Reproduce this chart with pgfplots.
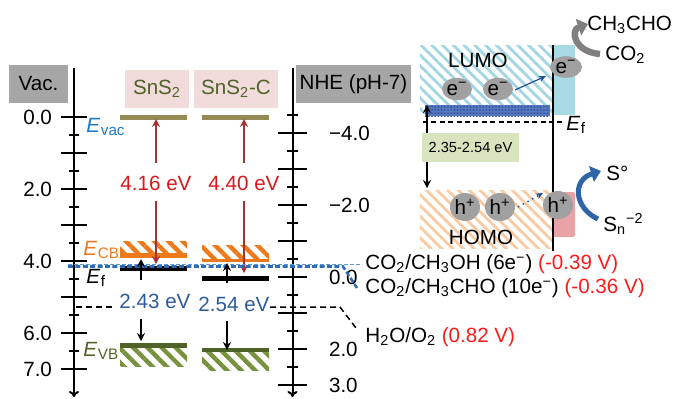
\documentclass[border=0pt]{standalone}
\usepackage{pgfplots}
\pgfplotsset{compat=1.18}
\usepackage{fontspec}
\setmainfont{Liberation Sans}
\usetikzlibrary{patterns,patterns.meta,arrows.meta}
\definecolor{graybox}{HTML}{A6A6A6}
\definecolor{pinkbox}{HTML}{F2DCDB}
\definecolor{olivetxt}{HTML}{4F6228}
\definecolor{vacbar}{HTML}{948A54}
\definecolor{cborange}{HTML}{EC7A1C}
\definecolor{vbgreen}{HTML}{4F6228}
\definecolor{vbhatch}{HTML}{76923C}
\definecolor{evacblue}{HTML}{1A7AC6}
\definecolor{gapblue}{HTML}{2E5A9A}
\definecolor{arrred}{HTML}{A83232}
\definecolor{lblred}{HTML}{D9181C}
\definecolor{potred}{HTML}{FF1A1A}
\definecolor{dashblue}{HTML}{2F6CB5}
\definecolor{dashlight}{HTML}{5B9BD5}
\definecolor{lumoblue}{HTML}{A3D6E3}
\definecolor{homopeach}{HTML}{F9CBA3}
\definecolor{bandblue}{HTML}{5578C0}
\definecolor{bandblued}{HTML}{2A4D94}
\definecolor{sideblue}{HTML}{A8DAE6}
\definecolor{sidepink}{HTML}{E7A3A6}
\definecolor{gapbox}{HTML}{D7E4BD}
\definecolor{elgray}{HTML}{A0A0A0}
\definecolor{curvblue}{HTML}{2E64A8}
\definecolor{curvgray}{HTML}{7F7F7F}
\definecolor{arrowblue}{HTML}{1F4E99}
\newcommand\Esub[1]{\textit{E}\kern0.3pt\raisebox{-0.35ex}{\fontsize{7.6}{8}\selectfont #1}}
\begin{document}
\begin{tikzpicture}[font=\fontsize{10.3}{12}\selectfont]
\pgfplotsset{every tick label/.append style={font=\fontsize{10.3}{12}\selectfont},
  /pgf/number format/assume math mode=true}
% ---------------- Vac axis (left) ----------------
\begin{axis}[at={(37pt,0.5pt)}, anchor=south west, scale only axis,
  width=1pt, height=164.5pt, xmin=0, xmax=1,
  ymin=-1.361, ymax=7.778, y dir=reverse,
  axis x line=none, axis y line=left,
  ytick={0,1,...,7}, yticklabels={0.0,,2.0,,4.0,,6.0,7.0},
  minor ytick={0.5,1.5,...,6.5},
  tick align=center, major tick length=13pt, minor tick length=5.5pt,
  every tick/.style={black, line width=1.2pt},
  y axis line style={line width=1pt, -{To[length=3pt,width=5pt]}},
  yticklabel style={xshift=-1pt}]
\addplot[draw=none] coordinates {(0,0)};
\end{axis}
% ---------------- NHE axis (right) ----------------
\begin{axis}[at={(146.25pt,0.5pt)}, anchor=south east, scale only axis,
  width=1pt, height=164.5pt, xmin=0, xmax=1,
  ymin=-5.806, ymax=3.333, y dir=reverse,
  axis x line=none, axis y line=right,
  ytick={-4,-3,...,3}, yticklabels={−4.0,,−2.0,,0.0,,2.0,3.0},
  minor ytick={-4.5,-3.5,...,2.5},
  tick align=center, major tick length=14.5pt, minor tick length=6pt,
  every tick/.style={black, line width=1.2pt},
  y axis line style={line width=1pt, -{To[length=3pt,width=5pt]}},
  yticklabel style={xshift=7.5pt}]
\addplot[draw=none] coordinates {(0,0)};
\end{axis}
% ---------------- overlay (pixel x, pixel y; bands in eV) ----------------
\begin{axis}[at={(0pt,0pt)}, anchor=south west, scale only axis,
  width=338pt, height=199pt, xmin=0, xmax=676, ymin=0, ymax=398,
  y dir=reverse, hide axis, clip=false]
% header boxes
\fill[graybox] (axis cs:9,65) rectangle (axis cs:68,103);
\node at (axis cs:38.5,84) {Vac.};
\fill[graybox] (axis cs:296,65) rectangle (axis cs:411,103);
\node at (axis cs:353.5,84) {NHE (pH-7)};
\fill[pinkbox] (axis cs:125,70) rectangle (axis cs:189,108);
\node[text=olivetxt] at (axis cs:157,89) {SnS\textsubscript{2}};
\fill[pinkbox] (axis cs:194,70) rectangle (axis cs:278,108);
\node[text=olivetxt] at (axis cs:236,89) {SnS\textsubscript{2}-C};
% hatched bands (eV values, y = 117 + 36 e)
\addplot[draw=none, pattern={Lines[angle=-45,distance=5pt,line width=2.2pt]}, pattern color=cborange]
  table[row sep=\\, y expr=117+36*\thisrow{e}] {x e\\ 120 3.464\\ 187 3.464\\ 187 3.786\\ 120 3.786\\} -- cycle;
\addplot[draw=none, pattern={Lines[angle=-45,distance=5pt,line width=2.2pt]}, pattern color=cborange]
  table[row sep=\\, y expr=117+36*\thisrow{e}] {x e\\ 202 3.583\\ 269 3.583\\ 269 3.925\\ 202 3.925\\} -- cycle;
\addplot[draw=none, pattern={Lines[angle=-45,distance=5pt,line width=2.2pt]}, pattern color=vbhatch]
  table[row sep=\\, y expr=117+36*\thisrow{e}] {x e\\ 120 6.408\\ 187 6.408\\ 187 6.936\\ 120 6.936\\} -- cycle;
\addplot[draw=none, pattern={Lines[angle=-45,distance=5pt,line width=2.2pt]}, pattern color=vbhatch]
  table[row sep=\\, y expr=117+36*\thisrow{e}] {x e\\ 202 6.547\\ 269 6.547\\ 269 7.047\\ 202 7.047\\} -- cycle;
% level bars
\addplot[vacbar, line width=2.5pt] table[row sep=\\, y expr=117+36*\thisrow{e}] {x e\\ 120 0\\ 187 0\\};
\addplot[vacbar, line width=2.5pt] table[row sep=\\, y expr=117+36*\thisrow{e}] {x e\\ 202 0\\ 269 0\\};
\addplot[cborange, line width=2.2pt] table[row sep=\\, y expr=117+36*\thisrow{e}] {x e\\ 120 3.847\\ 187 3.847\\};
\addplot[cborange, line width=1.7pt] table[row sep=\\, y expr=117+36*\thisrow{e}] {x e\\ 202 3.99\\ 269 3.99\\};
\addplot[black, line width=2.5pt] table[row sep=\\, y expr=117+36*\thisrow{e}] {x e\\ 120 4.222\\ 187 4.222\\};
\addplot[black, line width=2.5pt] table[row sep=\\, y expr=117+36*\thisrow{e}] {x e\\ 202 4.486\\ 269 4.486\\};
\addplot[vbgreen, line width=2.2pt] table[row sep=\\, y expr=117+36*\thisrow{e}] {x e\\ 120 6.347\\ 187 6.347\\};
\addplot[vbgreen, line width=2.2pt] table[row sep=\\, y expr=117+36*\thisrow{e}] {x e\\ 202 6.472\\ 269 6.472\\};
% red work-function arrows
\draw[arrred, line width=0.8pt, -{Stealth[length=4pt,width=4pt]}] (axis cs:156,163) -- (axis cs:156,119);
\draw[arrred, line width=0.8pt, -{Stealth[length=4pt,width=4pt]}] (axis cs:156,201) -- (axis cs:156,264);
\draw[arrred, line width=0.8pt, -{Stealth[length=4pt,width=4pt]}] (axis cs:244,163) -- (axis cs:244,119);
\draw[arrred, line width=0.8pt, -{Stealth[length=4pt,width=4pt]}] (axis cs:244,201) -- (axis cs:244,273);
\node[text=lblred] at (axis cs:156,183) {4.16 eV};
\node[text=lblred] at (axis cs:244,183) {4.40 eV};
% dashed reference lines
\draw[dashblue, line width=1.3pt, dash pattern=on 2.5pt off 1.2pt] (axis cs:68,266.5) -- (axis cs:343,266.5) -- (axis cs:357,288);
\draw[dashlight, line width=0.5pt, dash pattern=on 2pt off 1pt] (axis cs:68,264) -- (axis cs:362,264);
\draw[black, line width=0.75pt, dash pattern=on 3pt off 2pt] (axis cs:76,307) -- (axis cs:112,307);
\draw[black, line width=0.75pt, dash pattern=on 3pt off 2pt] (axis cs:270,307) -- (axis cs:340,307) -- (axis cs:356,328);
% black gap arrows
\draw[black, line width=0.8pt, -{Stealth[length=4pt,width=4pt]}] (axis cs:141,280) -- (axis cs:141,259);
\draw[black, line width=0.8pt, -{Stealth[length=4pt,width=4pt]}] (axis cs:141,319) -- (axis cs:141,341);
\draw[black, line width=0.8pt, -{Stealth[length=4pt,width=4pt]}] (axis cs:227,283) -- (axis cs:227,263);
\draw[black, line width=0.8pt, -{Stealth[length=4pt,width=4pt]}] (axis cs:227,321) -- (axis cs:227,350);
\node[text=gapblue] at (axis cs:155,301) {2.43 eV};
\node[text=gapblue] at (axis cs:234,304) {2.54 eV};
% E labels
\node[anchor=west, text=evacblue, inner sep=0pt] at (axis cs:86,127) {\Esub{vac}};
\node[anchor=west, text=cborange, inner sep=0pt] at (axis cs:83,250) {\Esub{CB}};
\node[anchor=west, text=black, inner sep=0pt] at (axis cs:86,278) {\Esub{f}};
\node[anchor=west, text=vbgreen, inner sep=0pt] at (axis cs:83,351) {\Esub{VB}};
% redox potentials
\node[anchor=west, inner sep=0pt] at (axis cs:365,264) {CO\textsubscript{2}/CH\textsubscript{3}OH (6e\textsuperscript{−}) \textcolor{potred}{(-0.39 V)}};
\node[anchor=west, inner sep=0pt] at (axis cs:365,288) {CO\textsubscript{2}/CH\textsubscript{3}CHO (10e\textsuperscript{−}) \textcolor{potred}{(-0.36 V)}};
\node[anchor=west, inner sep=0pt] at (axis cs:365,337) {H\textsubscript{2}O/O\textsubscript{2} \textcolor{potred}{(0.82 V)}};
% ---------------- right schematic ----------------
\fill[pattern={Lines[angle=-45,distance=3.8pt,line width=1.4pt]}, pattern color=lumoblue] (axis cs:420,45) rectangle (axis cs:552,113);
\fill[bandblue] (axis cs:425,105) rectangle (axis cs:550,116);
\fill[pattern={Dots[distance=1.6pt,radius=0.45pt]}, pattern color=bandblued] (axis cs:425,105) rectangle (axis cs:550,116);
\fill[pattern={Lines[angle=-45,distance=3.8pt,line width=1.4pt]}, pattern color=homopeach] (axis cs:420,190) rectangle (axis cs:552,248);
\fill[sideblue] (axis cs:553,45) rectangle (axis cs:575,115);
\fill[sidepink, rounded corners=1pt] (axis cs:553,192) rectangle (axis cs:575,237);
\draw[black, line width=1pt] (axis cs:553,45) -- (axis cs:553,251);
\node at (axis cs:478,60) {LUMO};
\node at (axis cs:481,237) {HOMO};
\fill[elgray] (axis cs:457,89) ellipse [x radius=7.5pt, y radius=5.6pt];
\fill[elgray] (axis cs:498,89) ellipse [x radius=7.5pt, y radius=5.6pt];
\fill[elgray] (axis cs:566,67) ellipse [x radius=8pt, y radius=5.4pt];
\node at (axis cs:457,89) {e\textsuperscript{−}};
\node at (axis cs:498,89) {e\textsuperscript{−}};
\node at (axis cs:566,67) {e\textsuperscript{−}};
\draw[arrowblue, line width=0.6pt, -{Stealth[length=3.5pt,width=3pt]}] (axis cs:515,90) -- (axis cs:546,76);
\fill[elgray] (axis cs:465,207) ellipse [x radius=7.5pt, y radius=7pt];
\fill[elgray] (axis cs:500,207) ellipse [x radius=7.5pt, y radius=7pt];
\fill[elgray] (axis cs:558,205) ellipse [x radius=7.5pt, y radius=7pt];
\node at (axis cs:465,207) {h\textsuperscript{+}};
\node at (axis cs:500,207) {h\textsuperscript{+}};
\node at (axis cs:558,205) {h\textsuperscript{+}};
\draw[arrowblue, line width=0.7pt, dotted, -{Stealth[length=3.5pt,width=3pt]}] (axis cs:518,207) -- (axis cs:543,193);
% Ef and gap
\draw[black, line width=0.9pt, dash pattern=on 2.5pt off 1.7pt] (axis cs:423,122) -- (axis cs:562,122);
\node[anchor=west, inner sep=0pt] at (axis cs:566,125) {\Esub{f}};
\draw[black, line width=0.8pt, {Stealth[length=4pt,width=4pt]}-{Stealth[length=4pt,width=4pt]}] (axis cs:427,105) -- (axis cs:427,188);
\fill[gapbox] (axis cs:422,133) rectangle (axis cs:519,162);
\node[font=\fontsize{7.3}{9}\selectfont] at (axis cs:470.5,147.5) {2.35-2.54 eV};
% curved arrows and species
\draw[curvblue, line width=2.5pt, -{Triangle[length=5pt,width=8pt]}] (axis cs:598,219) .. controls (axis cs:574,208) and (axis cs:572,180) .. (axis cs:601,171);
\node[anchor=west, inner sep=0pt] at (axis cs:606,173) {S°};
\node[anchor=west, inner sep=0pt] at (axis cs:603,224) {S\textsubscript{n}\textsuperscript{−2}};
\draw[curvgray, line width=3.2pt, -{Triangle[length=5pt,width=8.5pt]}] (axis cs:600,54) .. controls (axis cs:574,52) and (axis cs:570,30) .. (axis cs:588,24);
\node[anchor=west, inner sep=0pt] at (axis cs:587,25) {CH\textsubscript{3}CHO};
\node[anchor=west, inner sep=0pt] at (axis cs:605,55) {CO\textsubscript{2}};
\end{axis}
\pgfresetboundingbox
\useasboundingbox (0,0) rectangle (338pt,199pt);
\end{tikzpicture}
\end{document}
